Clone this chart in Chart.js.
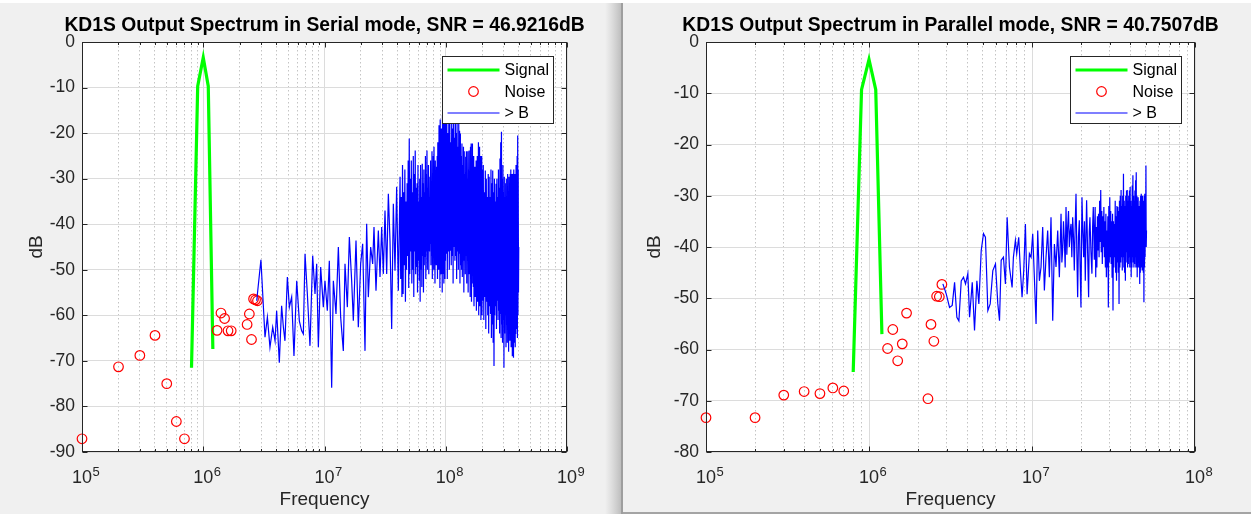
<!DOCTYPE html>
<html>
<head>
<meta charset="utf-8">
<script src="https://cdn.jsdelivr.net/npm/chart.js@4.4.0/dist/chart.umd.min.js"></script>
<style>
  html, body { margin: 0; padding: 0; background: #f0f0f0; }
  body { width: 1251px; height: 514px; position: relative; overflow: hidden; }
  #topStrip { position: absolute; left: 0; top: 0; width: 1251px; height: 3px; background: #fff; z-index: 2; }
  #divider { position: absolute; left: 621px; top: 3px; width: 2px; height: 511px; background: #9e9e9e; z-index: 2; }
  #bottomLine { position: absolute; left: 623px; top: 512px; width: 628px; height: 2px; background: #a4a4a4; z-index: 2; }
  #c1 { position: absolute; left: 0; top: 0; }
  #c2 { position: absolute; left: 623px; top: 0; }
</style>
</head>
<body>
<div id="topStrip"></div>
<canvas id="c1" width="621" height="514"></canvas>
<div id="divider"></div>
<canvas id="c2" width="628" height="514"></canvas>
<div id="bottomLine"></div>
<script>
// ---- data ----
const signalFreq = [0.8e6, 0.9e6, 1.0e6, 1.1e6, 1.2e6];
const noiseFreq = [1e5, 2e5, 3e5, 4e5, 5e5, 6e5, 7e5, 1.3e6, 1.4e6, 1.5e6, 1.6e6, 1.7e6,
                   2.3e6, 2.4e6, 2.5e6, 2.6e6, 2.7e6, 2.8e6];

// serial mode
const serialTitle = 'KD1S Output Spectrum in Serial mode, SNR = 46.9216dB';
const serialSignalDb = [-71.5, -9.7, -3.4, -9.7, -67.4];
const serialNoiseDb = [-87.1, -71.3, -68.8, -64.4, -75.0, -83.3, -87.1, -63.3, -59.5, -60.7, -63.4, -63.4,
                       -62.0, -59.7, -65.3, -56.4, -56.6, -56.8];
const serialBandMHz = [
  2.76, 2.99, 3.23, 3.38, 3.55, 3.74, 3.91, 4.03, 4.24, 4.43,
  4.58, 4.72, 4.94, 5.13, 5.36, 5.60, 5.90, 6.20, 6.48, 6.69,
  6.91, 7.22, 7.59, 7.99, 8.35, 8.62, 8.90, 9.30, 9.78, 10.09,
  10.55, 10.96, 11.46, 11.83, 12.44, 13.01, 13.59, 14.30, 14.76, 15.43,
  16.03, 16.75, 17.29, 18.19, 19.01, 19.87, 20.64, 21.58, 22.27, 22.99,
  24.03, 24.96, 25.60, 26.59, 27.80, 28.70, 29.62, 30.57, 31.55, 32.57,
  33.62, 34.69, 35.81, 36.96, 38.14, 39.37, 40.63,
  42, 42.5, 43, 43.5, 44, 44.5, 45, 45.5, 46, 46.5,
  47, 47.5, 48, 48.5, 49, 49.5, 50, 50.5, 51, 51.5,
  52, 52.5, 53, 53.5, 54, 54.5, 55, 55.5, 56, 56.5,
  57, 57.5, 58, 58.5, 59, 59.5, 60, 60.5, 61, 61.5,
  62, 62.5, 63, 63.5, 64, 64.5, 65, 65.5, 66, 66.5,
  67, 67.5, 68, 68.5, 69, 69.5, 70, 70.5, 71, 71.5,
  72, 72.5, 73, 73.5, 74, 74.5, 75, 75.5, 76, 76.5,
  77, 77.5, 78, 78.5, 79, 79.5, 80, 80.5, 81, 81.5,
  82, 82.5, 83, 83.5, 84, 84.5, 85, 85.5, 86, 86.5,
  87, 87.5, 88, 88.5, 89, 89.5, 90, 90.5, 91, 91.5,
  92, 92.5, 93, 93.5, 94, 94.5, 95, 95.5, 96, 96.5,
  97, 97.5, 98, 98.5, 99, 99.5, 100,
  101, 102, 103, 104, 105, 106, 107, 108, 109, 110,
  111, 112, 113, 114, 115, 116, 117, 118, 119, 120,
  121, 122, 123, 124, 125, 126, 127, 128, 129, 130,
  131, 132, 133, 134, 135, 136, 137, 138, 139, 140,
  141, 142, 143, 144, 145, 146, 147, 148, 149, 150,
  151, 152, 153, 154, 155, 156, 157, 158, 159, 160,
  161, 162, 163, 164, 165, 166, 167, 168, 169, 170,
  171, 172, 173, 174, 175, 176, 177, 178, 179, 180,
  181, 182, 183, 184, 185, 186, 187, 188, 189, 190,
  191, 192, 193, 194, 195, 196, 197, 198, 199, 200,
  202, 204, 206, 208, 210, 212, 214, 216, 218, 220,
  222, 224, 226, 228, 230, 232, 234, 236, 238, 240,
  242, 244, 246, 248, 250, 252, 254, 256, 258, 260,
  262, 264, 266, 268, 270, 272, 274, 276, 278, 280,
  282, 284, 286, 288, 290, 292, 294, 296, 298, 300,
  302, 304, 306, 308, 310, 312, 314, 316, 318, 320,
  322, 324, 326, 328, 330, 332, 334, 336, 338, 340,
  342, 344, 346, 348, 350, 352, 354, 356, 358, 360,
  362, 364, 366, 368, 370, 372, 374, 376, 378, 380,
  382, 384, 386, 388, 390, 392, 394, 396, 398, 400
];
const serialBandDb = [
  -56.8, -47.8, -64.8, -60.4, -67.0, -62.6, -65.6, -59.0, -70.4, -57.9,
  -62.6, -65.6, -51.6, -58.2, -56.0, -68.9, -52.4, -61.2, -63.4, -64.1,
  -46.5, -55.3, -66.7, -46.9, -55.3, -48.7, -67.0, -49.4, -58.2, -52.4,
  -59.0, -48.0, -75.9, -52.4, -59.7, -45.0, -60.4, -67.8, -48.7, -58.2,
  -42.8, -52.4, -61.2, -43.6, -62.6, -48.7, -44.3, -67.8, -39.9, -56.0,
  -45.0, -48.7, -40.6, -54.6, -41.4, -51.6, -40.6, -50.9, -37.0, -50.9,
  -33.3, -43.6, -63.0, -35.5, -50.2, -31.8, -54.6,
  -29.6, -52, -34, -56, -27, -55.3, -33, -49, -28, -57,
  -35, -50, -31, -47, -26, -54, -21.2, -50.9, -30, -46,
  -26, -53, -33, -50, -25, -56, -29, -46, -23.8, -51,
  -32, -49.4, -31, -55, -27, -48, -35, -52.4, -30, -57,
  -27, -50, -34, -53.8, -26.7, -47, -31, -55, -28, -49,
  -33, -47.2, -25, -52, -29, -46, -23.8, -50, -32, -45.8,
  -27, -51, -34, -46, -29.6, -44.3, -26, -49, -31, -47,
  -24, -52, -29, -45, -25, -50, -23, -46, -30, -53,
  -26, -47, -32, -49, -27.4, -45, -25, -52, -22, -47,
  -28, -50, -18.3, -48.7, -24, -54, -17, -47, -22, -51,
  -19, -48, -25, -55, -16, -49, -21, -50.9, -17, -53,
  -15, -49, -23, -52, -16, -48, -17,
  -46.5, -16, -52, -20, -46, -18, -50, -16, -45.8, -22,
  -49, -15, -47, -19, -53, -17, -45, -21, -48, -16,
  -47, -20, -52, -18, -46, -23, -50, -18, -46.5, -19.5,
  -53, -20.1, -49, -25, -50, -22.3, -51.6, -27, -48, -23,
  -55, -24, -48, -29, -51, -25.2, -47, -24, -53, -30,
  -48, -24, -55, -28, -51, -23.8, -50.9, -30, -56, -23,
  -51, -22.3, -57, -28, -53, -22.3, -50, -29, -53.8, -25,
  -58, -31, -52, -27.4, -56, -32, -52.4, -26, -59, -30,
  -53, -25, -57, -30, -54, -22, -60, -27, -55.3, -23,
  -58, -29, -56, -25, -61, -31, -57, -25, -60, -28,
  -56.8, -27, -61, -33, -56, -28.2, -63, -30, -57, -34,
  -60, -29, -64, -29.6, -58, -34, -59.7, -28, -65, -31,
  -62, -28.2, -66, -33, -71.1, -30, -60, -35, -58, -31.1,
  -63, -30, -56.8, -34, -61, -28, -59, -32, -64, -25.6,
  -59.7, -22, -65, -19.7, -62, -30, -66, -27, -61, -33,
  -71.5, -29.6, -64, -34, -60, -31, -67, -30, -62, -35,
  -66, -29, -63, -33, -68, -29.6, -62, -34, -65.6, -29,
  -61, -28, -67, -33, -64, -29, -69, -32, -63, -28.9,
  -69.3, -28, -66, -33, -62, -29, -67, -31, -64.1, -27,
  -63, -31, -60, -25, -65, -20.5, -60, -28, -55, -45
];
const serialYTicks = [0, -10, -20, -30, -40, -50, -60, -70, -80, -90];
const serialXExp = [5, 6, 7, 8, 9];

// parallel mode
const parallelTitle = 'KD1S Output Spectrum in Parallel mode, SNR = 40.7507dB';
const parallelSignalDb = [-64.4, -9.3, -3.4, -9.3, -57.0];
const parallelNoiseDb = [-73.3, -73.3, -68.9, -68.2, -68.6, -67.5, -68.1, -59.8, -56.1, -62.2, -58.9, -52.9,
                         -69.6, -55.1, -58.4, -49.6, -49.7, -47.3];
const parallelBandMHz = [
  2.84, 2.98, 3.12, 3.24, 3.35, 3.46, 3.56, 3.68, 3.80, 3.91,
  4.04, 4.14, 4.30, 4.44, 4.59, 4.72, 4.88, 5.04, 5.18, 5.36,
  5.54, 5.75, 5.97, 6.17, 6.32, 6.47, 6.68, 6.87, 7.04, 7.27,
  7.55, 7.69, 7.91, 8.06, 8.29, 8.49, 8.69, 8.90, 9.11, 9.33,
  9.64, 9.87, 10.10, 10.34, 10.59, 10.84, 11.10, 11.36, 11.63, 11.91,
  12.19, 12.48, 12.78, 13.08, 13.40, 13.72, 14.04, 14.38, 14.72,
  15.07, 15.25, 15.42, 15.60, 15.79, 15.98, 16.17, 16.36, 16.55, 16.75,
  16.94, 17.15, 17.35, 17.55, 17.76, 17.97, 18.18, 18.40, 18.62, 18.84,
  19.06, 19.28, 19.51, 19.74, 19.97, 20.11, 20.26, 20.50, 20.74, 20.98,
  21.23, 21.43, 21.63, 21.94, 22.25, 22.46, 22.67, 23.00, 23.32, 23.55,
  23.77, 24.11,
  24.4, 24.6, 24.8, 25.0, 25.2, 25.4, 25.6, 25.8, 26.0, 26.2,
  26.4, 26.6, 26.8, 27.0, 27.2, 27.4, 27.6, 27.8, 28.0, 28.2,
  28.4, 28.6, 28.8, 29.0, 29.2, 29.4, 29.6, 29.8, 30.0, 30.2,
  30.4, 30.6, 30.8, 31.0, 31.2, 31.4, 31.6, 31.8, 32.0, 32.2,
  32.4, 32.6, 32.8, 33.0, 33.2, 33.4, 33.6, 33.8, 34.0, 34.2,
  34.4, 34.6, 34.8, 35.0, 35.2, 35.4, 35.6, 35.8, 36.0, 36.2,
  36.4, 36.6, 36.8, 37.0, 37.2, 37.4, 37.6, 37.8, 38.0, 38.2,
  38.4, 38.6, 38.8, 39.0, 39.2, 39.4, 39.6, 39.8, 40.0, 40.2,
  40.4, 40.6, 40.8, 41.0, 41.2, 41.4, 41.6, 41.8, 42.0, 42.2,
  42.4, 42.6, 42.8, 43.0, 43.2, 43.4, 43.6, 43.8, 44.0, 44.2,
  44.4, 44.6, 44.8, 45.0, 45.2, 45.4, 45.6, 45.8, 46.0, 46.2,
  46.4, 46.6, 46.8, 47.0, 47.2, 47.4, 47.6, 47.8, 48.0, 48.2,
  48.4, 48.6, 48.8, 49.0, 49.2, 49.4, 49.6, 49.8, 50.0, 50.2,
  50.4
];
const parallelBandDb = [
  -47.2, -49.2, -51.8, -51.4, -46.9, -53.7, -54.4, -46.6, -45.9, -47.2,
  -45.2, -53.7, -46.9, -56.3, -46.6, -51.1, -40.7, -37.4, -38.1, -52.4,
  -51.1, -44.6, -43.3, -51.1, -54.4, -42.6, -42.0, -47.2, -34.2, -43.9,
  -47.9, -42.0, -38.7, -41.3, -38.1, -44.6, -49.8, -44.6, -35.5, -49.2,
  -41.3, -42.0, -37.4, -45.9, -55.0, -36.8, -46.6, -43.9, -36.1, -48.5,
  -42.0, -36.8, -45.9, -34.2, -54.4, -39.4, -43.9, -36.8, -45.9,
  -33.5, -43.0, -40.7, -35.0, -38.7, -44.0, -32.2, -41.5, -36.1, -33.0,
  -40.0, -37.0, -35.5, -42.0, -34.2, -38.0, -44.6, -36.0, -29.6, -41.0,
  -49.8, -38.0, -34.8, -44.0, -51.8, -40.0, -30.3, -37.0, -42.0, -35.0,
  -46.6, -38.0, -30.9, -41.0, -49.8, -37.0, -34.2, -41.0, -45.2, -36.0,
  -32.2, -42.5,
  -32.2, -45.9, -36.1, -44, -34, -40.7, -33.5, -42, -31, -39,
  -28.9, -41, -33, -43.3, -34, -40, -32.2, -42, -35, -44,
  -33.5, -45.9, -36.8, -44, -34, -51.8, -32, -43, -30.3, -42,
  -33, -43.3, -35, -46, -33.5, -52.4, -35, -44, -35.5, -42,
  -31, -45, -34, -46.6, -32, -43, -32.2, -45, -33, -51.1,
  -31, -44, -30, -43, -28.9, -42, -32, -44.6, -30, -42,
  -25.7, -44, -31, -45, -32, -46.6, -30, -43, -29, -41,
  -28.9, -44, -31, -43.3, -30, -42, -29, -44, -28.3, -43,
  -31, -45.9, -32, -44, -28, -42, -26, -43, -30, -44,
  -31, -43.3, -29, -42, -27, -44, -25.4, -43, -30, -45.9,
  -31, -44, -30.3, -42, -32, -44, -33, -47.2, -31, -45,
  -30, -43, -29.6, -44, -31, -44.6, -30, -42, -31, -45,
  -32, -50.8, -30, -44, -29.6, -42, -33, -38, -24.1, -40,
  -36.8
];
const parallelYTicks = [0, -10, -20, -30, -40, -50, -60, -70, -80];
const parallelXExp = [5, 6, 7, 8];

const legendLabels = ['Signal', 'Noise', '> B'];

// ---- drawing ----
const FONT = '"Liberation Sans", Arial, Helvetica, sans-serif';
Chart.defaults.font.family = FONT;
const AXIS_COLOR = '#262626';

function pairs(xs, ys, scale) {
  return xs.map((x, i) => ({x: x * scale, y: ys[i]}));
}

// MATLAB-ish axes frame: title, box, inward ticks, 10^n labels, opaque legend
function matlabFrame(opts) {
  return {
    id: 'matlabFrame',
    beforeDraw(chart) {
      const {ctx, chartArea: a, width, height} = chart;
      ctx.save();
      ctx.fillStyle = '#f0f0f0';
      ctx.fillRect(0, 0, width, height);
      if (opts.shade) {
        const g = ctx.createLinearGradient(width - 16, 0, width, 0);
        g.addColorStop(0, 'rgba(200,200,200,0)');
        g.addColorStop(1, 'rgba(190,190,190,1)');
        ctx.fillStyle = g;
        ctx.fillRect(width - 16, 0, 16, height);
      }
      ctx.fillStyle = '#ffffff';
      ctx.fillRect(a.left, a.top, a.right - a.left, a.bottom - a.top);

      // title centred over the axes
      ctx.fillStyle = '#000';
      ctx.font = 'bold 19.3px ' + FONT;
      ctx.textAlign = 'center';
      ctx.textBaseline = 'alphabetic';
      ctx.fillText(opts.title, (a.left + a.right) / 2, 31);
      ctx.restore();
    },
    afterDraw(chart) {
      const {ctx, chartArea: a} = chart;
      const xs = chart.scales.x, ys = chart.scales.y;
      const L = Math.round(a.left) + 0.5, R = Math.round(a.right) - 0.5;
      const T = Math.round(a.top) + 0.5, B = Math.round(a.bottom) - 0.5;
      ctx.save();
      ctx.strokeStyle = AXIS_COLOR;
      ctx.lineWidth = 1;
      ctx.beginPath();
      // x ticks, major and minor
      opts.xExp.forEach((e, i) => {
        const px = Math.round(xs.getPixelForValue(Math.pow(10, e))) + 0.5;
        ctx.moveTo(px, B); ctx.lineTo(px, B - 5);
        ctx.moveTo(px, T); ctx.lineTo(px, T + 5);
        if (i < opts.xExp.length - 1) {
          for (let k = 2; k <= 9; k++) {
            const mx = Math.round(xs.getPixelForValue(k * Math.pow(10, e))) + 0.5;
            ctx.moveTo(mx, B); ctx.lineTo(mx, B - 2.5);
            ctx.moveTo(mx, T); ctx.lineTo(mx, T + 2.5);
          }
        }
      });
      opts.yTicks.forEach(v => {
        const py = Math.round(ys.getPixelForValue(v)) + 0.5;
        ctx.moveTo(L, py); ctx.lineTo(L + 5, py);
        ctx.moveTo(R, py); ctx.lineTo(R - 5, py);
      });
      ctx.stroke();
      ctx.strokeRect(L, T, R - L, B - T);

      // 10^n tick labels
      ctx.fillStyle = AXIS_COLOR;
      opts.xExp.forEach(e => {
        const px = xs.getPixelForValue(Math.pow(10, e));
        ctx.font = '18px ' + FONT;
        ctx.textAlign = 'center';
        ctx.textBaseline = 'alphabetic';
        ctx.fillText('10', px, a.bottom + 31);
        const w = ctx.measureText('10').width;
        ctx.font = '13px ' + FONT;
        ctx.textAlign = 'left';
        ctx.fillText(String(e), px + w / 2 + 0.5, a.bottom + 24);
      });

      // legend box
      const bw = 111, bh = 67;
      const bx = Math.round(a.right) - 14 - bw + 0.5, by = Math.round(a.top) + 14.5;
      ctx.fillStyle = '#ffffff';
      ctx.fillRect(bx, by, bw, bh);
      ctx.strokeStyle = AXIS_COLOR;
      ctx.lineWidth = 1;
      ctx.strokeRect(bx, by, bw, bh);
      ctx.font = '16px ' + FONT;
      ctx.textAlign = 'left';
      ctx.textBaseline = 'middle';
      chart.data.datasets.forEach((d, i) => {
        const y = by + 13.5 + i * 21.5;
        ctx.strokeStyle = d.borderColor;
        ctx.lineWidth = d.borderWidth;
        ctx.beginPath();
        if (d.showLine) {
          ctx.moveTo(bx + 5, y); ctx.lineTo(bx + 57, y);
        } else {
          ctx.arc(bx + 31, y, d.pointRadius, 0, Math.PI * 2);
        }
        ctx.stroke();
        ctx.fillStyle = '#000';
        ctx.fillText(d.label, bx + 62, y + 1);
      });
      ctx.restore();
    }
  };
}

function spectrumChart(canvasId, opts) {
  const minorTicks = [];
  for (let i = 0; i < opts.xExp.length - 1; i++) {
    for (let k = 2; k <= 9; k++) minorTicks.push({value: k * Math.pow(10, opts.xExp[i])});
  }
  const xMin = Math.pow(10, opts.xExp[0]);
  const xMax = Math.pow(10, opts.xExp[opts.xExp.length - 1]);

  return new Chart(document.getElementById(canvasId), {
    type: 'scatter',
    data: {
      datasets: [{
        label: legendLabels[0],
        data: pairs(signalFreq, opts.signalDb, 1),
        showLine: true,
        borderColor: '#00ff00',
        borderWidth: 3.2,
        pointRadius: 0,
        order: 3
      }, {
        label: legendLabels[1],
        data: pairs(noiseFreq, opts.noiseDb, 1),
        showLine: false,
        borderColor: '#ff0000',
        backgroundColor: 'rgba(0,0,0,0)',
        borderWidth: 1.2,
        pointRadius: 4.8,
        clip: 8,
        order: 2
      }, {
        label: legendLabels[2],
        data: pairs(opts.bandMHz, opts.bandDb, 1e6),
        showLine: true,
        borderColor: '#0000ff',
        borderWidth: 1.2,
        // a solid "dash" keeps Chart.js off its per-pixel fast path, so every zigzag is stroked
        borderDash: [4000, 0],
        pointRadius: 0,
        order: 1
      }]
    },
    options: {
      responsive: false,
      animation: false,
      events: [],
      layout: { padding: { left: 0, right: opts.padRight, top: 42, bottom: 0 } },
      plugins: {
        legend: { display: false },
        tooltip: { enabled: false },
        title: { display: false }
      },
      scales: {
        x: {
          type: 'logarithmic',
          position: 'bottom',
          min: xMin,
          max: xMax,
          afterBuildTicks: (axis) => { axis.ticks = opts.xExp.map(e => ({value: Math.pow(10, e)})); },
          afterFit: (axis) => { axis.height = 62; },
          ticks: { display: false },
          grid: { color: '#dcdcdc', lineWidth: 1, drawTicks: false },
          border: { display: false },
          title: { display: true, text: 'Frequency', color: AXIS_COLOR, font: { size: 19 }, padding: { top: 0, bottom: 3 } }
        },
        xMinor: {
          type: 'logarithmic',
          position: 'bottom',
          min: xMin,
          max: xMax,
          afterBuildTicks: (axis) => { axis.ticks = minorTicks.slice(); },
          afterFit: (axis) => { axis.height = 0; },
          ticks: { display: false },
          grid: { color: '#c4c4c4', lineWidth: 1, drawTicks: false },
          border: { display: false, dash: [1.5, 2.5] }
        },
        y: {
          type: 'linear',
          min: opts.yTicks[opts.yTicks.length - 1],
          max: 0,
          afterBuildTicks: (axis) => { axis.ticks = opts.yTicks.map(v => ({value: v})); },
          afterFit: (axis) => { axis.width = opts.yWidth; },
          ticks: { color: AXIS_COLOR, font: { size: 17.5 }, padding: 7 },
          grid: { color: '#dcdcdc', lineWidth: 1, drawTicks: false },
          border: { display: false },
          title: { display: true, text: 'dB', color: AXIS_COLOR, font: { size: 19 }, padding: { top: opts.dbPad } }
        }
      }
    },
    plugins: [matlabFrame(opts)]
  });
}

spectrumChart('c1', {
  title: serialTitle, signalDb: serialSignalDb, noiseDb: serialNoiseDb,
  bandMHz: serialBandMHz, bandDb: serialBandDb,
  yTicks: serialYTicks, xExp: serialXExp,
  padRight: 54, yWidth: 82, dbPad: 25.5, shade: true
});
spectrumChart('c2', {
  title: parallelTitle, signalDb: parallelSignalDb, noiseDb: parallelNoiseDb,
  bandMHz: parallelBandMHz, bandDb: parallelBandDb,
  yTicks: parallelYTicks, xExp: parallelXExp,
  padRight: 56, yWidth: 83, dbPad: 20.5, shade: false
});
</script>
</body>
</html>
